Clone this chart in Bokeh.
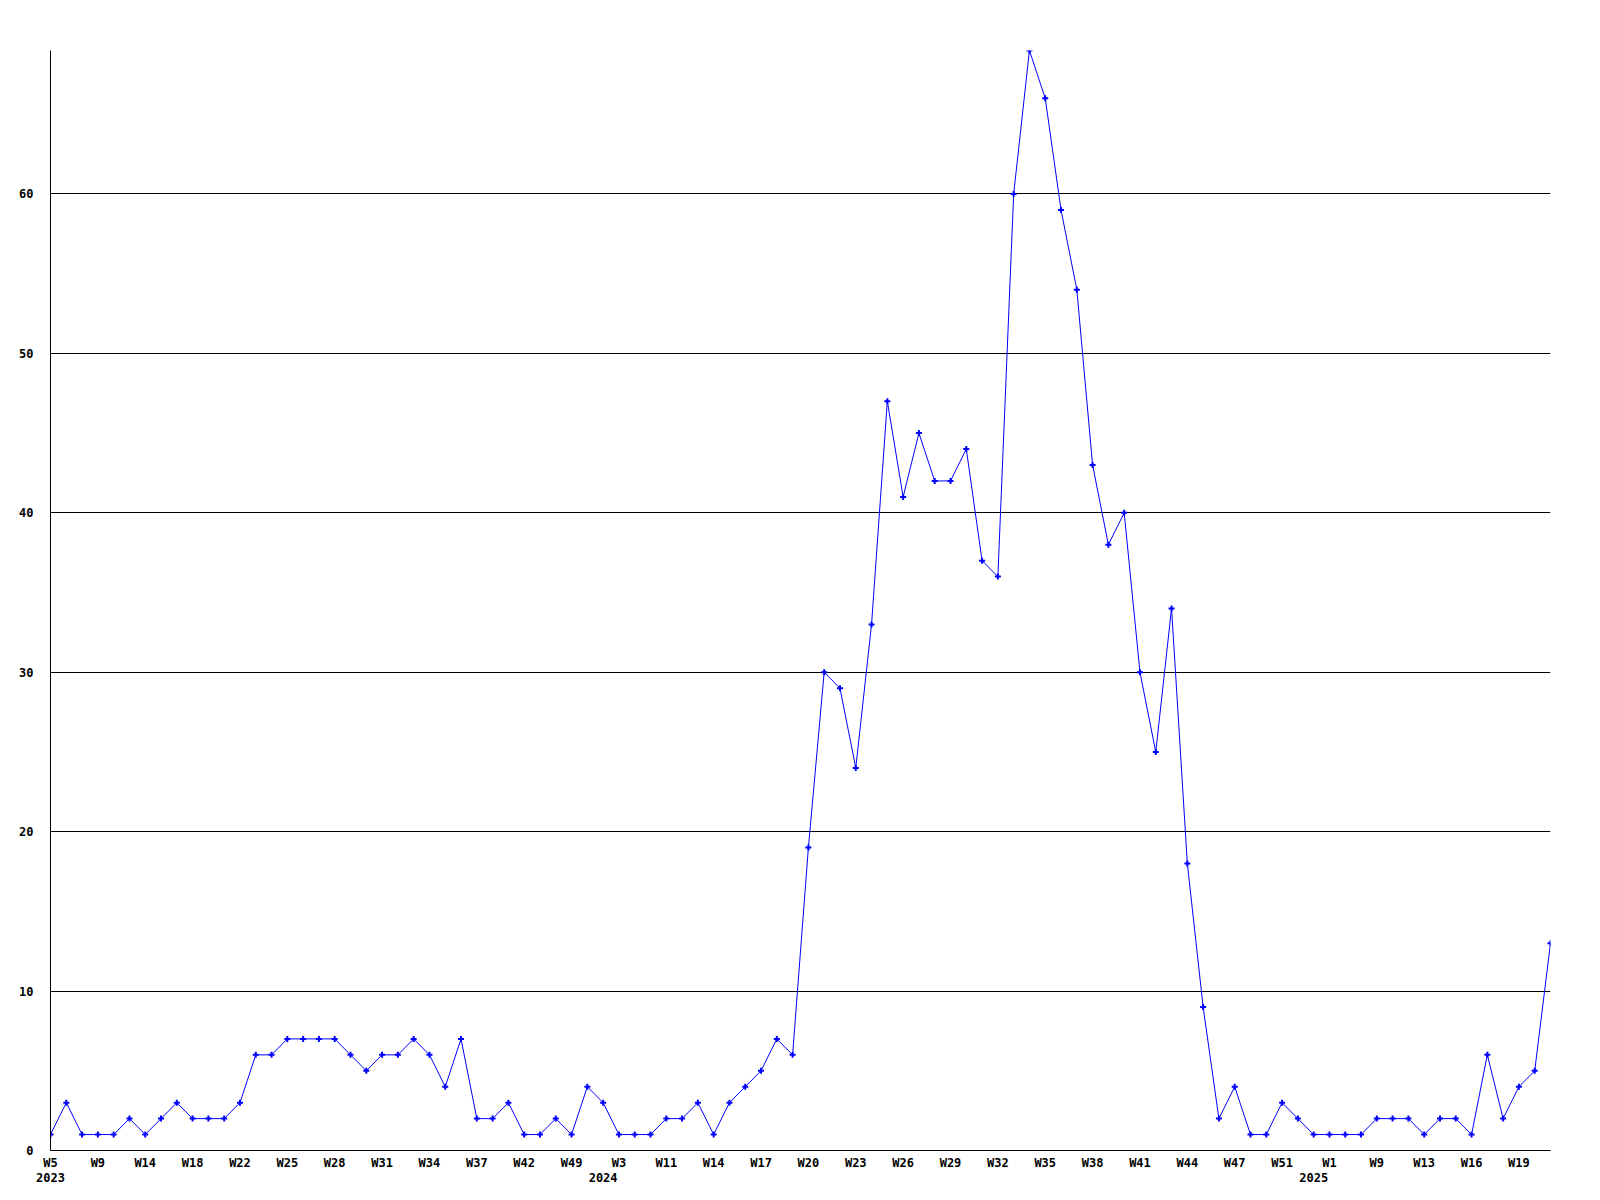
from bokeh.plotting import figure
from bokeh.models import Range1d, FixedTicker, LinearAxis, ColumnDataSource
from bokeh.embed import file_html
from bokeh.resources import INLINE

counts = [1, 3, 1, 1, 1, 2, 1, 2, 3, 2, 2, 2, 3, 6, 6, 7, 7, 7, 7, 6, 5, 6, 6,
          7, 6, 4, 7, 2, 2, 3, 1, 1, 2, 1, 4, 3, 1, 1, 1, 2, 2, 3, 1, 3, 4, 5, 7, 6,
          19, 30, 29, 24, 33, 47, 41, 45, 42, 42, 44, 37, 36, 60, 69, 66, 59, 54, 43, 38, 40, 30, 25, 34, 18, 9,
          2, 4, 1, 1, 3, 2, 1, 1, 1, 1, 2, 2, 2, 1, 2, 2, 1, 6, 2, 4, 5, 13]

week_labels = ["W5", "W9", "W14", "W18", "W22", "W25", "W28", "W31", "W34", "W37", "W42", "W49",
               "W3", "W11", "W14", "W17", "W20", "W23", "W26", "W29", "W32", "W35", "W38", "W41",
               "W44", "W47", "W51",
               "W1", "W9", "W13", "W16", "W19"]
label_every = 3

years = ["2023", "2024", "2025"]
year_start_index = [0, 35, 80]

y_ticks = [0, 10, 20, 30, 40, 50, 60]

idx = list(range(len(counts)))
src = ColumnDataSource(dict(x=idx, y=counts))

p = figure(width=1584, height=1184, output_backend="svg", toolbar_location=None,
           x_range=Range1d(0, len(counts) - 1), y_range=Range1d(0, max(counts)),
           min_border_left=50, min_border_right=34, min_border_top=50, min_border_bottom=34)
p.outline_line_color = None
p.background_fill_color = "white"
p.border_fill_color = "white"

FONT = "DejaVu Sans Mono"

p.line("x", "y", source=src, line_color="#0000ff", line_width=1)
p.scatter("x", "y", source=src, marker="cross", size=6, line_width=2, color="#0000ff")

# x axis with week labels
week_ticks = list(range(0, len(week_labels) * label_every, label_every))
xa = p.xaxis[0]
xa.ticker = FixedTicker(ticks=week_ticks)
xa.major_label_overrides = {t: lab for t, lab in zip(week_ticks, week_labels)}
xa.major_tick_out = 0
xa.major_tick_in = 0
xa.minor_tick_out = 0
xa.minor_tick_in = 0
xa.axis_line_color = "black"
xa.axis_line_width = 1
xa.major_label_standoff = 5
xa.major_label_text_font = FONT
xa.major_label_text_font_style = "bold"
xa.major_label_text_font_size = "12px"
xa.major_label_text_color = "black"

# second axis for years
ya2 = LinearAxis(ticker=FixedTicker(ticks=year_start_index),
                 major_label_overrides={t: y for t, y in zip(year_start_index, years)})
ya2.axis_line_color = None
ya2.major_tick_out = 0
ya2.major_tick_in = 0
ya2.minor_tick_out = 0
ya2.minor_tick_in = 0
ya2.major_label_standoff = 0
ya2.major_label_text_font = FONT
ya2.major_label_text_font_style = "bold"
ya2.major_label_text_font_size = "12px"
ya2.major_label_text_color = "black"
p.add_layout(ya2, "below")

# y axis
yax = p.yaxis[0]
yax.ticker = FixedTicker(ticks=y_ticks)
yax.major_tick_out = 0
yax.major_tick_in = 0
yax.minor_tick_out = 0
yax.minor_tick_in = 0
yax.axis_line_color = "black"
yax.major_label_standoff = 17
yax.major_label_text_font = FONT
yax.major_label_text_font_style = "bold"
yax.major_label_text_font_size = "12px"
yax.major_label_text_color = "black"

p.xgrid.visible = False
p.ygrid.ticker = FixedTicker(ticks=y_ticks[1:])
p.ygrid.grid_line_color = "black"
p.ygrid.grid_line_alpha = 1
p.ygrid.grid_line_width = 1

open("out.html", "w").write(file_html(p, INLINE))
